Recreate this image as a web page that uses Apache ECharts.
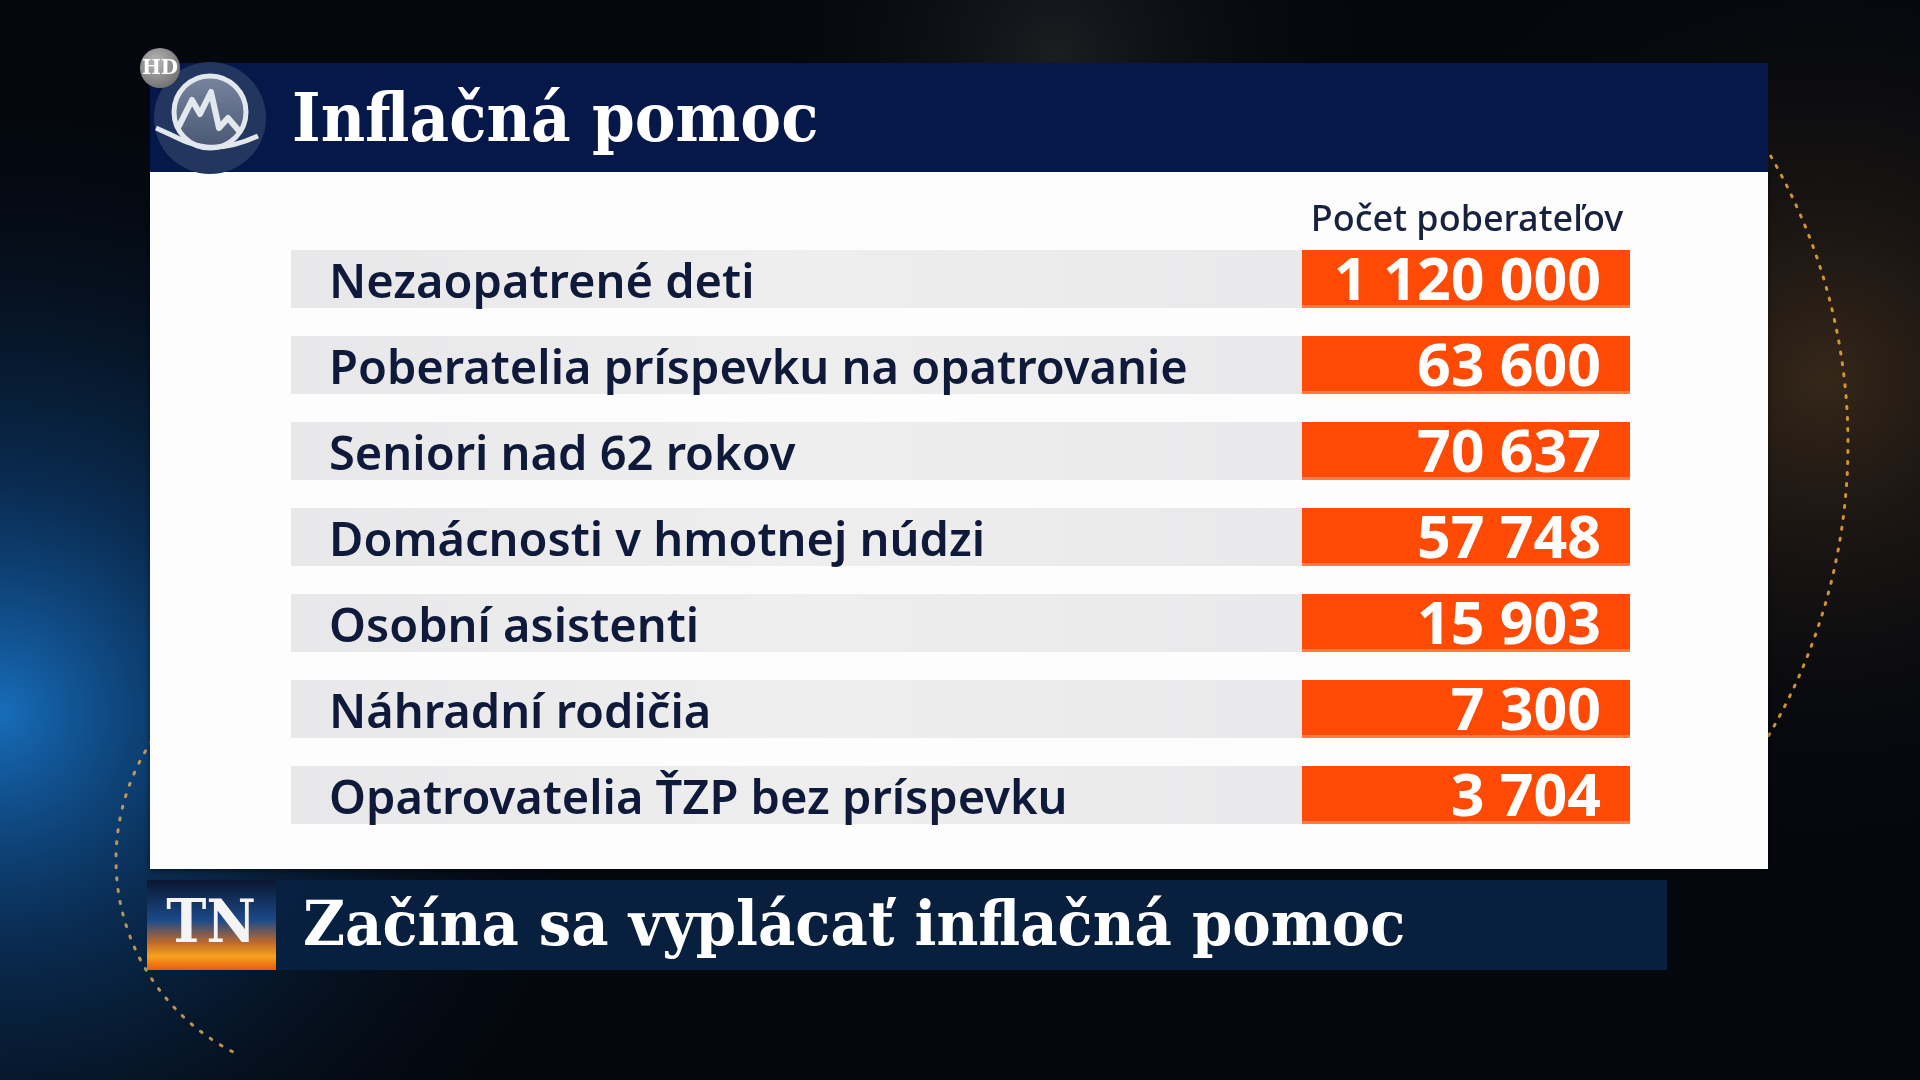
<!DOCTYPE html>
<html>
<head>
<meta charset="utf-8">
<script src="https://cdn.jsdelivr.net/npm/echarts@6/dist/echarts.min.js"></script>
<style>
html,body{margin:0;padding:0;background:#04070d;}
#chart{width:1920px;height:1080px;}
</style>
</head>
<body>
<div id="chart"></div>
<script>
// ---- data ----
const categories = [
  'Nezaopatrené deti',
  'Poberatelia príspevku na opatrovanie',
  'Seniori nad 62 rokov',
  'Domácnosti v hmotnej núdzi',
  'Osobní asistenti',
  'Náhradní rodičia',
  'Opatrovatelia ŤZP bez príspevku'
];
const values = [1120000, 63600, 70637, 57748, 15903, 7300, 3704];
const columnTitle = 'Počet poberateľov';
const titleText = 'Inflačná pomoc';
const tickerText = 'Začína sa vyplácať inflačná pomoc';
const badgeText = 'HD';
const channelText = 'TN';

function fmt(v) {
  return String(v).replace(/\B(?=(\d{3})+(?!\d))/g, ' ');
}

const chart = echarts.init(document.getElementById('chart'), null, {renderer: 'canvas'});

const NAVY = '#0f1a3a';
const ORANGE = '#ff4a06';

function renderRow(params, api) {
  const cs = params.coordSys;
  const yc = api.coord([0, api.value(1)])[1];
  const band = api.size([0, 1])[1];
  const h = band * 0.675;
  const top = yc - h / 2;
  const boxW = cs.width * 0.245;
  const boxX = cs.x + cs.width - boxW;
  return {
    type: 'group',
    children: [
      {
        type: 'rect',
        shape: {x: cs.x, y: top, width: boxX - cs.x, height: h},
        style: {
          fill: new echarts.graphic.LinearGradient(0, 0, 1, 0, [
            {offset: 0, color: '#e8e8ea'},
            {offset: 0.5, color: '#eeeeef'},
            {offset: 1, color: '#e9e9eb'}
          ])
        }
      },
      {
        type: 'rect',
        shape: {x: boxX, y: top, width: boxW, height: h},
        style: {fill: ORANGE}
      },
      {
        type: 'rect',
        shape: {x: boxX, y: top + h - 3, width: boxW, height: 3},
        style: {fill: '#ff7a45'}
      },
      {
        type: 'text',
        x: cs.x + cs.width - 29,
        y: yc + 4,
        style: {
          text: fmt(api.value(2)),
          fill: '#ffffff',
          font: 'bold 59px "Noto Sans"',
          align: 'right',
          verticalAlign: 'middle'
        }
      }
    ]
  };
}

const bg = [
  {
    type: 'rect', z: 0,
    shape: {x: 0, y: 0, width: 1920, height: 1080},
    style: {fill: '#04070d'}
  },
  {
    type: 'rect', z: 0,
    shape: {x: 0, y: 0, width: 1920, height: 1080},
    style: {
      fill: new echarts.graphic.RadialGradient(0.0, 0.66, 0.6, [
        {offset: 0, color: 'rgba(25,120,205,0.9)'},
        {offset: 0.35, color: 'rgba(15,80,150,0.5)'},
        {offset: 1, color: 'rgba(4,7,13,0)'}
      ])
    }
  },
  {
    type: 'rect', z: 0,
    shape: {x: 0, y: 0, width: 1920, height: 1080},
    style: {
      fill: new echarts.graphic.RadialGradient(0.95, 0.35, 0.45, [
        {offset: 0, color: 'rgba(95,65,35,0.55)'},
        {offset: 1, color: 'rgba(4,7,13,0)'}
      ])
    }
  },
  {
    type: 'rect', z: 0,
    shape: {x: 0, y: 0, width: 1920, height: 1080},
    style: {
      fill: new echarts.graphic.RadialGradient(0.55, 0.05, 0.3, [
        {offset: 0, color: 'rgba(70,70,70,0.35)'},
        {offset: 1, color: 'rgba(4,7,13,0)'}
      ])
    }
  },
  // dotted golden arcs
  {
    type: 'arc', z: 0,
    shape: {cx: 1273, cy: 444, r: 575, startAngle: -0.62, endAngle: 0.6},
    style: {stroke: 'rgba(240,170,60,0.85)', lineWidth: 3, lineDash: [2, 9], lineCap: 'round', fill: null}
  },
  {
    type: 'arc', z: 0,
    shape: {cx: 332, cy: 860, r: 216, startAngle: 2.05, endAngle: 3.75},
    style: {stroke: 'rgba(235,175,90,0.8)', lineWidth: 3, lineDash: [2, 10], lineCap: 'round', fill: null}
  },
  // white panel
  {
    type: 'rect', z: 1,
    shape: {x: 150, y: 170, width: 1618, height: 699},
    style: {fill: '#fdfdfd', shadowBlur: 6, shadowColor: 'rgba(0,0,0,0.5)', shadowOffsetY: 2}
  },
  // header band
  {
    type: 'rect', z: 1,
    shape: {x: 150, y: 63, width: 1618, height: 109},
    style: {fill: '#06184a'}
  },
  // logo
  {
    type: 'circle', z: 3,
    shape: {cx: 210, cy: 118, r: 56},
    style: {fill: '#22365f'}
  },
  {
    type: 'circle', z: 3,
    shape: {cx: 210, cy: 112, r: 36},
    style: {
      fill: new echarts.graphic.LinearGradient(0, 0, 0, 1, [
        {offset: 0, color: '#7a86a0'},
        {offset: 1, color: '#485672'}
      ]),
      stroke: '#e3e7ee', lineWidth: 5
    }
  },
  {
    type: 'polyline', z: 4,
    shape: {points: [[178, 128], [192, 100], [200, 114], [211, 92], [219, 128], [228, 118], [240, 132]]},
    style: {stroke: '#e3e7ee', lineWidth: 6, lineJoin: 'round', fill: null}
  },
  {
    type: 'bezierCurve', z: 4,
    shape: {x1: 156, y1: 128, cpx1: 185, cpy1: 140, cpx2: 205, cpy2: 160, x2: 258, y2: 136},
    style: {stroke: '#e3e7ee', lineWidth: 5, fill: null}
  },
  // HD badge
  {
    type: 'circle', z: 5,
    shape: {cx: 160, cy: 68, r: 20},
    style: {
      fill: new echarts.graphic.RadialGradient(0.4, 0.35, 0.7, [
        {offset: 0, color: '#b8b8b8'},
        {offset: 1, color: '#6f6f6f'}
      ])
    }
  },
  {
    type: 'text', z: 6, x: 160, y: 69,
    style: {text: badgeText, fill: '#ffffff', font: 'bold 20px "DejaVu Serif"', align: 'center', verticalAlign: 'middle'}
  },
  // title
  {
    type: 'text', z: 5, x: 292, y: 123, scaleX: 0.9,
    style: {text: titleText, fill: '#ffffff', font: 'bold 68px "DejaVu Serif"', align: 'left', verticalAlign: 'middle'}
  },
  // column header
  {
    type: 'text', z: 5, x: 1467, y: 221,
    style: {text: columnTitle, fill: '#17223f', font: '500 36px "Noto Sans"', align: 'center', verticalAlign: 'middle'}
  },
  // bottom ticker bar
  {
    type: 'rect', z: 1,
    shape: {x: 147, y: 880, width: 1520, height: 90},
    style: {fill: 'rgba(9,33,66,0.94)'}
  },
  {
    type: 'rect', z: 2,
    shape: {x: 147, y: 880, width: 129, height: 90},
    style: {
      fill: new echarts.graphic.LinearGradient(0, 0, 0, 1, [
        {offset: 0, color: '#0a1630'},
        {offset: 0.45, color: '#1c4a8a'},
        {offset: 0.7, color: '#c26a2a'},
        {offset: 0.85, color: '#f7a21c'},
        {offset: 1, color: '#e85a10'}
      ])
    }
  },
  {
    type: 'text', z: 3, x: 211, y: 926, scaleX: 0.9,
    style: {text: channelText, fill: '#f4f4f4', font: 'bold 60px "DejaVu Serif"', align: 'center', verticalAlign: 'middle'}
  },
  {
    type: 'text', z: 3, x: 303, y: 929, scaleX: 0.93,
    style: {text: tickerText, fill: '#ffffff', font: 'bold 62px "DejaVu Serif"', align: 'left', verticalAlign: 'middle'}
  }
];

const option = {
  backgroundColor: '#04070d',
  animation: false,
  graphic: {elements: bg},
  grid: {left: 291, right: 290, top: 236, bottom: 242, containLabel: false},
  xAxis: {type: 'value', min: 0, max: 1, show: false},
  yAxis: {
    type: 'category',
    data: categories,
    inverse: true,
    z: 5,
    axisLine: {show: false},
    axisTick: {show: false},
    splitLine: {show: false},
    axisLabel: {
      inside: true,
      align: 'left',
      margin: 38,
      formatter: function (v) { return '{l|' + v + '}'; },
      rich: {
        l: {
          color: NAVY,
          fontSize: 47,
          fontWeight: 600,
          fontFamily: 'Noto Sans',
          padding: [12, 0, 0, 0]
        }
      }
    }
  },
  series: [{
    type: 'custom',
    z: 2,
    clip: false,
    renderItem: renderRow,
    encode: {x: 0, y: 1},
    data: values.map((v, i) => [0, i, v])
  }]
};

chart.setOption(option);
</script>
</body>
</html>
